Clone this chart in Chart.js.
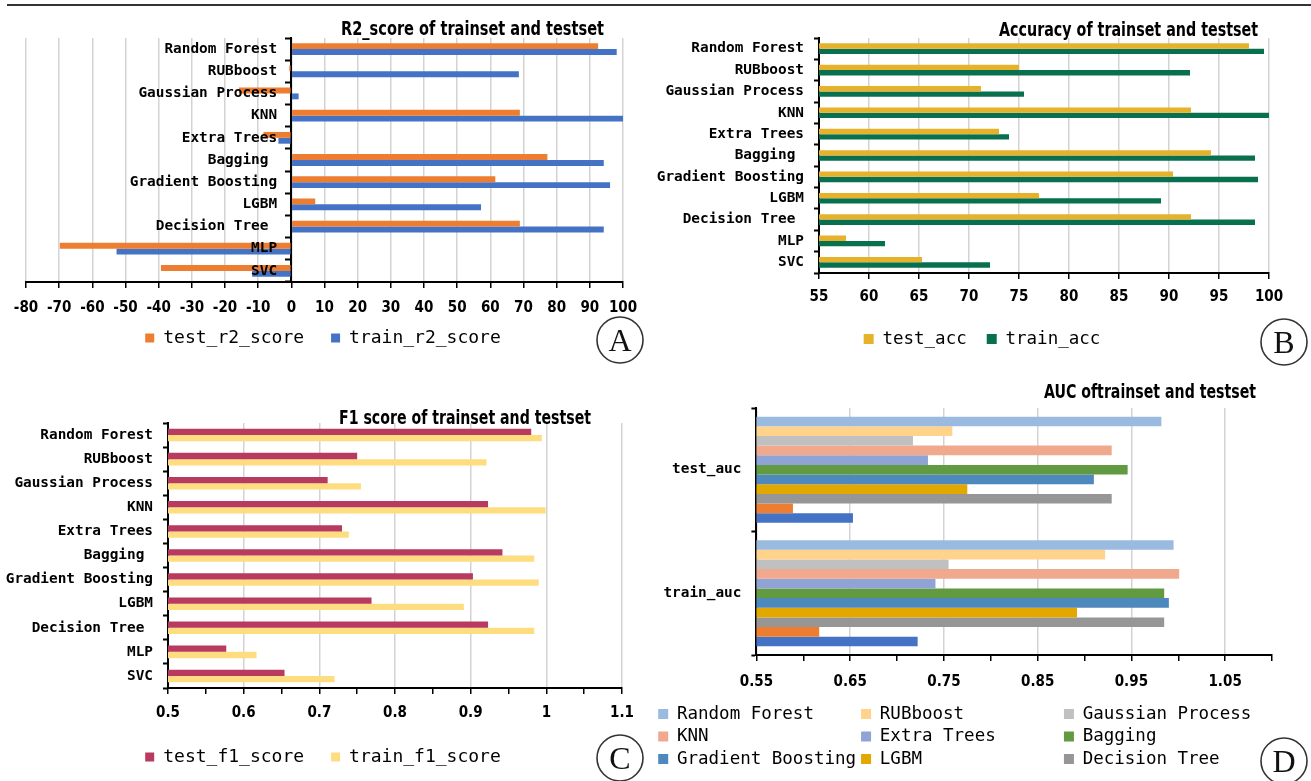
<!DOCTYPE html>
<html><head><meta charset="utf-8">
<script src="https://cdn.jsdelivr.net/npm/chart.js@4.4.1/dist/chart.umd.min.js"></script>
<style>
html,body{margin:0;padding:0;background:#fff;width:1311px;height:781px;overflow:hidden;position:relative}
canvas{position:absolute;display:block}
#topline{position:absolute;left:7px;top:4px;width:1304px;height:2px;background:#333}
</style></head><body>
<div id="topline"></div>
<canvas id="cA" width="650" height="380" style="left:0;top:0"></canvas>
<canvas id="cB" width="661" height="380" style="left:650px;top:0"></canvas>
<canvas id="cC" width="650" height="420" style="left:0;top:380px"></canvas>
<canvas id="cD" width="661" height="420" style="left:650px;top:380px"></canvas>
<script>
// ---------- data ----------
const models = ['Random Forest','RUBboost','Gaussian Process','KNN','Extra Trees','Bagging ','Gradient Boosting','LGBM','Decision Tree ','MLP','SVC'];

const r2Test  = [92.5, -0.6, -15.8, 68.9, -8.4, 77.2, 61.5, 7.2, 68.9, -69.8, -39.3];
const r2Train = [98.1, 68.6, 2.2, 100, -3.9, 94.2, 96.1, 57.2, 94.2, -52.7, -11.8];

const accTest  = [98.0, 75.0, 71.2, 92.2, 73.0, 94.2, 90.4, 77.0, 92.2, 57.7, 65.3];
const accTrain = [99.5, 92.1, 75.5, 100, 74.0, 98.6, 98.9, 89.2, 98.6, 61.6, 72.1];

const f1Test  = [0.980, 0.750, 0.711, 0.923, 0.730, 0.942, 0.903, 0.769, 0.923, 0.577, 0.654];
const f1Train = [0.994, 0.921, 0.755, 0.999, 0.739, 0.984, 0.990, 0.891, 0.984, 0.617, 0.720];

const aucModels = ['Random Forest','RUBboost','Gaussian Process','KNN','Extra Trees','Bagging','Gradient Boosting','LGBM','Decision Tree','MLP','SVC'];
const aucGroups = ['test_auc','train_auc'];
const aucTest  = [0.982, 0.759, 0.717, 0.929, 0.733, 0.946, 0.910, 0.775, 0.929, 0.589, 0.653];
const aucTrain = [0.995, 0.922, 0.755, 1.001, 0.741, 0.985, 0.990, 0.892, 0.985, 0.617, 0.722];
const aucLegendCount = 9;

// ---------- styles ----------
const aucColors = ['#9BBAE0','#FFD38C','#C0C0C0','#F0A98C','#8FA4D4','#619A41','#4E89BE','#E3A800','#969696','#ED7D31','#4472C4'];
const tickFont = {family:"'DejaVu Sans Condensed','DejaVu Sans',sans-serif", size:15, weight:'bold'};
const catFont = {family:"'DejaVu Sans Mono',monospace", size:14.4, weight:'bold'};
const legFont18 = {family:"'DejaVu Sans Mono',monospace", size:18};
const legFont175 = {family:"'DejaVu Sans Mono',monospace", size:17.5};
const GRID = '#D3D3D3';

const decor = {
  id: 'decor',
  afterLayout(chart, args, o) {
    if (!o.legendAt || !chart.legend) return;
    const L = chart.legend;
    const lo = L.options.labels;
    const fs = lo.font.size;
    const itemH = Math.max(fs, lo.boxHeight || fs);
    const dy = o.legendAt.cy - (L.top + lo.padding + itemH / 2);
    const dx = o.legendAt.cx - (L.left + L.right) / 2;
    L.top += dy; L.bottom += dy; L.left += dx; L.right += dx;
  },
  afterDraw(chart, args, o) {
    const ctx = chart.ctx;
    if (o.title) {
      const t = o.title;
      ctx.save();
      ctx.font = "bold 20px 'DejaVu Sans Condensed','DejaVu Sans',sans-serif";
      const w = ctx.measureText(t.text).width;
      ctx.translate(t.cx, t.baseline);
      ctx.scale(t.width / w, 1);
      ctx.textAlign = 'center';
      ctx.textBaseline = 'alphabetic';
      ctx.fillStyle = '#000';
      ctx.fillText(t.text, 0, 0);
      ctx.restore();
    }
    if (o.badge) {
      const b = o.badge;
      ctx.save();
      ctx.beginPath();
      ctx.arc(b.x, b.y, b.r, 0, Math.PI * 2);
      ctx.lineWidth = 1.6;
      ctx.strokeStyle = '#333';
      ctx.stroke();
      ctx.font = "32px 'Liberation Serif','DejaVu Serif',serif";
      ctx.textAlign = 'center';
      ctx.textBaseline = 'alphabetic';
      ctx.fillStyle = '#111';
      ctx.fillText(b.letter, b.x, b.y + 11);
      ctx.restore();
    }
  }
};
Chart.register(decor);

function xAxis(min, max, step, pad, height, labelFn, gridFn) {
  return {
    type: 'linear', min, max,
    ticks: {stepSize: step, color: '#000', font: tickFont, padding: pad, maxRotation: 0, autoSkip: false,
            callback: labelFn || undefined},
    grid: {color: gridFn || GRID, lineWidth: 1.5, tickColor: '#000', tickLength: 6, tickWidth: 1.5},
    border: {color: '#000', width: 2},
    afterFit: s => { s.height = height; }
  };
}
function yAxis(width) {
  return {
    type: 'category', position: 'left',
    ticks: {color: '#000', font: catFont, padding: 10, autoSkip: false},
    grid: {drawOnChartArea: false, tickColor: '#000', tickLength: 5, tickWidth: 2, offset: true},
    border: {color: '#000', width: 2},
    afterFit: s => { s.width = width; }
  };
}
function legend(font, box, pad, extra) {
  return {position: 'bottom', labels: Object.assign({font, color: '#000', boxWidth: box, boxHeight: box, padding: pad}, extra || {})};
}
function bars(label, data, color, cat) {
  return {label, data, backgroundColor: color, borderWidth: 0, categoryPercentage: cat, barPercentage: 1};
}

// ---------- A ----------
new Chart(document.getElementById('cA'), {
  type: 'bar',
  data: {labels: models, datasets: [
    bars('test_r2_score', r2Test, '#ED7D31', 0.53),
    bars('train_r2_score', r2Train, '#4472C4', 0.53)
  ]},
  options: {
    indexAxis: 'y', responsive: false, animation: false,
    layout: {padding: {top: 38, left: 26, right: 27, bottom: 8}},
    scales: {
      x: xAxis(-80, 100, 10, 11, 35),
      y: {type: 'category', position: {x: -4.3},
          ticks: {color: '#000', font: catFont, autoSkip: false, z: 1},
          grid: {display: false}, border: {display: false}},
      y2: {type: 'category', position: {x: 0}, offset: true,
           ticks: {display: false},
           grid: {drawOnChartArea: false, tickColor: '#000', tickLength: 5, tickWidth: 2, offset: true},
           border: {color: '#000', width: 2}}
    },
    plugins: {
      legend: legend(legFont18, 9, 27), tooltip: {enabled: false},
      decor: {legendAt: {cx: 323, cy: 338},
              title: {text: 'R2_score of trainset and testset', cx: 472.5, baseline: 35.2, width: 263},
              badge: {letter: 'A', x: 620, y: 340, r: 23}}
    }
  }
});

// ---------- B ----------
new Chart(document.getElementById('cB'), {
  type: 'bar',
  data: {labels: models, datasets: [
    bars('test_acc', accTest, '#E7B22B', 0.5),
    bars('train_acc', accTrain, '#08704F', 0.5)
  ]},
  options: {
    indexAxis: 'y', responsive: false, animation: false,
    layout: {padding: {top: 38, left: 0, right: 42, bottom: 26.5}},
    scales: {x: xAxis(55, 100, 5, 9, 33), y: yAxis(169)},
    plugins: {
      legend: legend(legFont175, 10, 20), tooltip: {enabled: false},
      decor: {legendAt: {cx: 332, cy: 339},
              title: {text: 'Accuracy of trainset and testset', cx: 478.5, baseline: 35.5, width: 259},
              badge: {letter: 'B', x: 634, y: 342, r: 23}}
    }
  }
});

// ---------- C ----------
const tenths = v => Math.round(v * 100) % 10 === 0;
new Chart(document.getElementById('cC'), {
  type: 'bar',
  data: {labels: models, datasets: [
    bars('test_f1_score', f1Test, '#B83A5E', 0.52),
    bars('train_f1_score', f1Train, '#FEDD80', 0.52)
  ]},
  options: {
    indexAxis: 'y', responsive: false, animation: false,
    layout: {padding: {top: 43, left: 0, right: 28, bottom: 23}},
    scales: {
      x: xAxis(0.5, 1.1, 0.05, 10, 34,
        v => tenths(v) ? String(+v.toFixed(1)) : '',
        c => (c.tick && tenths(c.tick.value)) ? GRID : 'rgba(0,0,0,0)'),
      y: yAxis(168)
    },
    plugins: {
      legend: legend(legFont18, 9, 27), tooltip: {enabled: false},
      decor: {legendAt: {cx: 323, cy: 377},
              title: {text: 'F1 score of trainset and testset', cx: 465, baseline: 44.2, width: 252},
              badge: {letter: 'C', x: 620, y: 378, r: 23}}
    }
  }
});

// ---------- D ----------
const fives = v => Math.round(v * 100) % 10 === 5;
new Chart(document.getElementById('cD'), {
  type: 'bar',
  data: {labels: aucGroups, datasets: aucModels.map((m, i) =>
    bars(m, [aucTest[i], aucTrain[i]], aucColors[i], 0.86))},
  options: {
    indexAxis: 'y', responsive: false, animation: false,
    layout: {padding: {top: 28, left: 0, right: 39, bottom: 31.5}},
    scales: {
      x: xAxis(0.55, 1.1, 0.05, 12, 36,
        v => fives(v) ? v.toFixed(2) : '',
        c => (c.tick && fives(c.tick.value)) ? GRID : 'rgba(0,0,0,0)'),
      y: yAxis(106.4)
    },
    plugins: {
      legend: legend(legFont175, 10, 5, {
        generateLabels: ch => Chart.defaults.plugins.legend.labels.generateLabels(ch)
          .filter(it => it.datasetIndex < aucLegendCount)
          .map(it => Object.assign(it, {text: it.text.padEnd(17)}))
      }),
      tooltip: {enabled: false},
      decor: {legendAt: {cx: 310, cy: 334},
              title: {text: 'AUC oftrainset and testset', cx: 500, baseline: 18.2, width: 212},
              badge: {letter: 'D', x: 634, y: 381, r: 23}}
    }
  }
});
</script>
</body></html>
